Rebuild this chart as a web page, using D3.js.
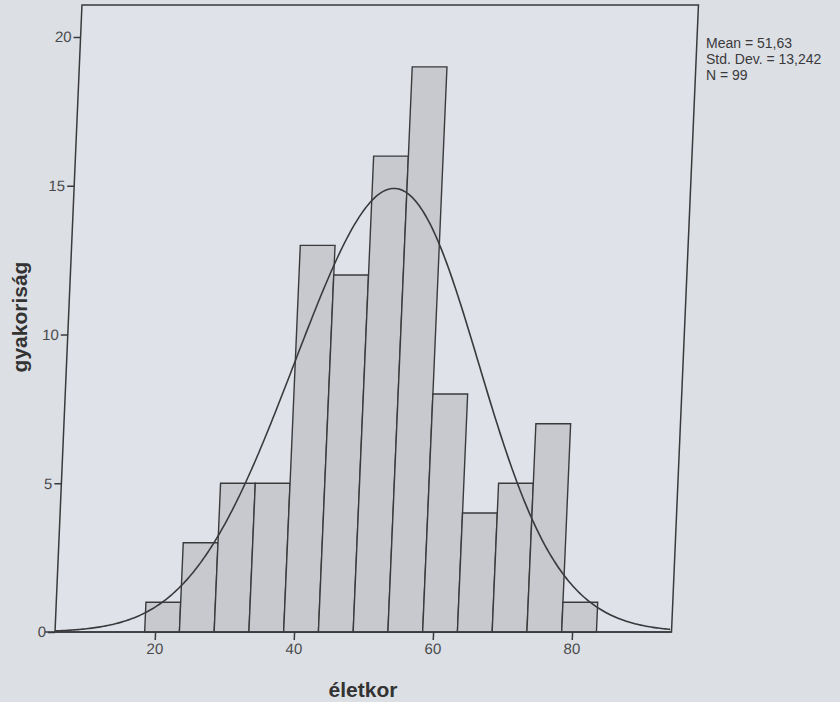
<!DOCTYPE html>
<html>
<head>
<meta charset="utf-8">
<script src="https://cdn.jsdelivr.net/npm/d3@7"></script>
<style>
  html, body { margin: 0; padding: 0; background: #dcdfe4; }
  svg { display: block; font-family: Arial, "Liberation Sans", sans-serif; }
</style>
</head>
<body>
<svg id="chart" width="840" height="702"></svg>
<script>
// histogram bins (életkor, 5-year wide) and counts
const binStarts = [18.5, 23.5, 28.5, 33.5, 38.5, 43.5, 48.5, 53.5, 58.5, 63.5, 68.5, 73.5, 78.5];
const binWidth = 5;
const counts = [1, 3, 5, 5, 13, 12, 16, 19, 8, 4, 5, 7, 1];
const xTicks = [20, 40, 60, 80];
const yTicks = [0, 5, 10, 15, 20];
const statLines = ["Mean = 51,63", "Std. Dev. = 13,242", "N = 99"];
const mean = 51.63, sd = 13.242, n = 99;

const svg = d3.select("#chart");
const ink = "#3a3a3c";

// plot frame (before the scan shear)
const frameLeft = 55, frameRight = 671.5, frameTop = 5, base = 632;
const x = d3.scaleLinear().domain([5.6, 94.3]).range([frameLeft, frameRight]);
const y = d3.scaleLinear().domain([0, 21.08]).range([base, frameTop]);

// the scanned page leans a little: shear everything around the baseline
const shear = Math.atan(0.043) * 180 / Math.PI;
const g = svg.append("g")
    .attr("transform", `translate(0,${base}) skewX(${-shear}) translate(0,${-base})`);

g.append("rect")
    .attr("x", frameLeft).attr("y", frameTop)
    .attr("width", frameRight - frameLeft).attr("height", base - frameTop)
    .attr("fill", "#dfe2e8")
    .attr("stroke", ink).attr("stroke-width", 1.5);

g.selectAll("rect.bar").data(counts).enter().append("rect")
    .attr("class", "bar")
    .attr("x", (d, i) => x(binStarts[i]))
    .attr("y", d => y(d))
    .attr("width", (d, i) => x(binStarts[i] + binWidth) - x(binStarts[i]))
    .attr("height", d => base - y(d))
    .attr("fill", "#c7c9ce")
    .attr("stroke", ink).attr("stroke-width", 1.4);

// normal curve scaled to counts
const pdf = v => n * binWidth * Math.exp(-0.5 * ((v - mean) / sd) ** 2) / (sd * Math.sqrt(2 * Math.PI));
const curveX = d3.range(x.domain()[0], x.domain()[1] + 0.01, 0.25);
g.append("path")
    .datum(curveX)
    .attr("fill", "none")
    .attr("stroke", ink).attr("stroke-width", 1.6)
    .attr("d", d3.line().x(v => x(v)).y(v => y(pdf(v))));

// axes
const xAxis = g.append("g")
    .attr("transform", `translate(0,${base})`)
    .call(d3.axisBottom(x).tickValues(xTicks).tickSize(8).tickPadding(3).tickSizeOuter(0));
const yAxis = g.append("g")
    .attr("transform", `translate(${frameLeft},0)`)
    .call(d3.axisLeft(y).tickValues(yTicks).tickSize(7).tickPadding(2).tickSizeOuter(0));
[xAxis, yAxis].forEach(ax => {
  ax.select(".domain").remove();
  ax.selectAll("line").attr("stroke", ink).attr("stroke-width", 1.5);
  ax.selectAll("text").attr("fill", "#4a4a4c").style("font-size", "15px");
});
// baseline runs a bit past the frame on the left, to the 0 tick
g.append("line")
    .attr("x1", frameLeft - 10).attr("x2", frameRight)
    .attr("y1", base).attr("y2", base)
    .attr("stroke", ink).attr("stroke-width", 1.5);

// axis titles
svg.append("text")
    .attr("x", 363).attr("y", 697)
    .attr("text-anchor", "middle")
    .attr("font-weight", "bold").style("font-size", "21px")
    .attr("fill", "#333")
    .text("életkor");
svg.append("text")
    .attr("transform", "translate(27,317) rotate(-90)")
    .attr("text-anchor", "middle")
    .attr("font-weight", "bold").style("font-size", "21px")
    .attr("fill", "#333")
    .text("gyakoriság");

// summary statistics
svg.append("g").selectAll("text").data(statLines).enter().append("text")
    .attr("x", 706)
    .attr("y", (d, i) => 48 + i * 16)
    .attr("fill", "#3a3a3c")
    .style("font-size", "14px")
    .text(d => d);
</script>
</body>
</html>
